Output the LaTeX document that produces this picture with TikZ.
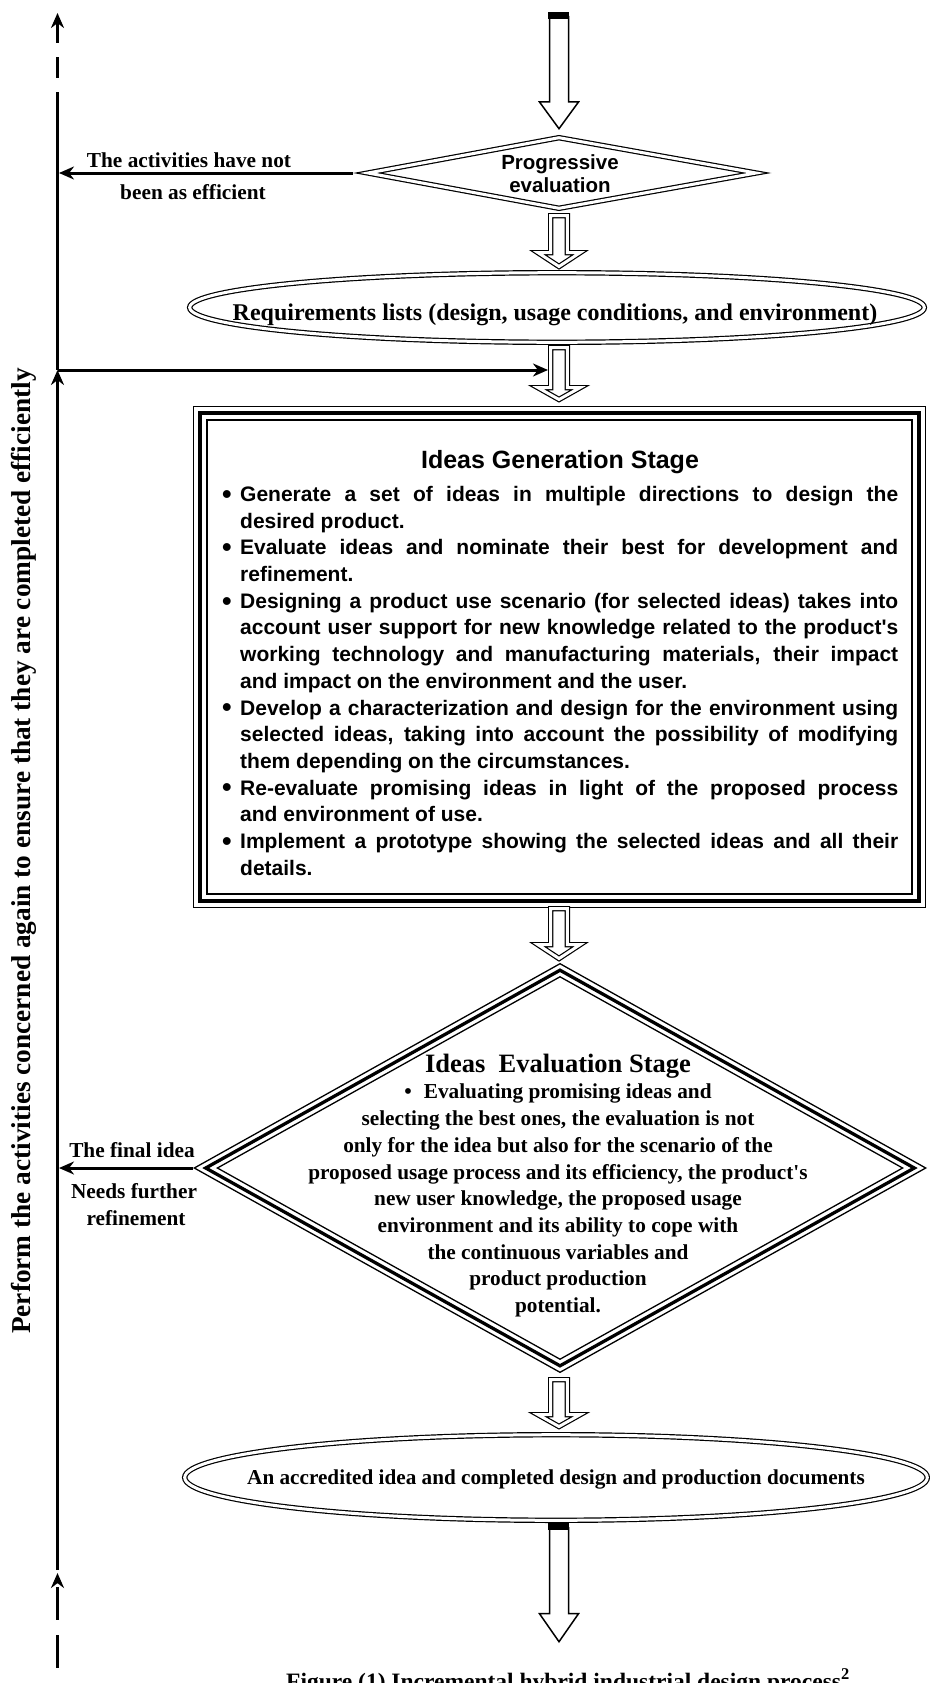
\documentclass[tikz,border=0pt]{standalone}
\usepackage{fontspec}
\setmainfont{Liberation Serif}
\newfontfamily\arialf{Liberation Sans}
\usetikzlibrary{arrows.meta}
\newcommand{\fsz}[2]{\fontsize{#1pt}{#2pt}\selectfont}
\newcommand{\gitem}{\par\noindent\hangindent=18pt\hangafter=1\makebox[18pt][l]{\raisebox{-1.8pt}{\scalebox{1.3}{\textbullet}}}}
\newcommand{\dblarrow}[3]{\draw[dblline, fill=white] (550.7,#1) -- (550.7,#2) -- (538,#2) -- (559,#3) -- (580,#2) -- (567.3,#2) -- (567.3,#1) -- cycle;}
\begin{document}
\begin{tikzpicture}[x=1pt,y=-1pt,
  tip/.style={-{Stealth[length=15pt,width=13pt]}},
  conn/.style={line width=3pt, tip},
  vline/.style={line width=2.7pt},
  dblline/.style={draw, line width=1.2pt, double=white, double distance=3pt},
  thinln/.style={draw, line width=1.3pt},
  thickln/.style={draw, line width=3.3pt},
  hollow/.style={draw, line width=1.5pt, fill=white},
  lbl/.style={font={\fsz{21.3}{26}\bfseries}, inner sep=0pt, anchor=base},
]
\useasboundingbox (0,0) rectangle (929,1683);

% ---------- named points ----------
\coordinate (vtop) at (57.5,13);
\coordinate (vdash) at (57.5,94);
\coordinate (vpe) at (59,173);
\coordinate (vj) at (57.5,370);
\coordinate (vfi) at (59,1168);
\coordinate (vbot) at (57.5,1570);
\coordinate (vbarr) at (57.5,1573);
\coordinate (vend) at (57.5,1700);
\coordinate (pe-w) at (353,173);
\coordinate (ev-w) at (193,1168);
\coordinate (a3w) at (548,370);

% ---------- left feedback line ----------
\draw[line width=3pt, dash pattern=on 21pt off 14pt, {Stealth[length=15pt,width=13pt]}-] (vtop) -- (vdash);
\draw[vline] (vj) -- (vdash);
\draw[vline, tip] (vbot) -- (vj);
\draw[line width=3pt, dash pattern=on 33pt off 15pt, dash phase=43pt, {Stealth[length=15pt,width=13pt]}-] (vbarr) -- (vend);

% ---------- top arrow ----------
\draw[hollow] (549.5,16) -- (549.5,102) -- (539.5,102) -- (559,128.7) -- (578.5,102) -- (568.5,102) -- (568.5,16);
\fill (548,12) rectangle (569,19);

% ---------- progressive evaluation ----------
\draw[dblline] (368,173) -- (559,137.7) -- (756,173) -- (559,208.3) -- cycle;
\node[font={\arialf\fsz{20.5}{23}\bfseries}, align=center, inner sep=0] (petext) at (560,174) {Progressive\\evaluation};
\draw[conn] (pe-w) -- (vpe);
\node[lbl] (act1) at (189,167) {The activities have not};
\node[lbl] (act2) at (193,199) {been as efficient};

\dblarrow{215.7}{252.7}{266.5}

% ---------- requirements ----------
\draw[dblline] (557,307.5) ellipse [x radius=367.3pt, y radius=34.8pt];
\node[font={\fsz{24}{28}\bfseries}, inner sep=0, anchor=base] (req) at (555,320) {Requirements lists (design, usage conditions, and environment)};

\dblarrow{347.7}{387.7}{399.5}
\draw[conn] (vj) -- (a3w);

% ---------- ideas generation box ----------
\draw[thinln] (193.6,406.6) rectangle (925.4,907.4);
\draw[thickln] (200,413) rectangle (919,901);
\draw[thinln] (207,420) rectangle (912,894);
\node[font={\arialf\fsz{25}{27}\bfseries}, anchor=base, inner sep=0] (gtitle) at (560,468.5) {Ideas Generation Stage};
\node[anchor=north west, inner sep=0, text width=676pt, align=justify,
      font={\arialf\fsz{21}{26.7}\bfseries}] (glist) at (222,474.5) {%
\hyphenpenalty=10000\tolerance=10000\parindent=0pt
\gitem\rule{0pt}{20pt}Generate a set of ideas in multiple directions to design the\linebreak desired product.
\gitem Evaluate ideas and nominate their best for development and\linebreak refinement.
\gitem Designing a product use scenario (for selected ideas) takes into\linebreak account user support for new knowledge related to the product\textquotesingle s\linebreak working technology and manufacturing materials, their impact\linebreak and impact on the environment and the user.
\gitem Develop a characterization and design for the environment using\linebreak selected ideas, taking into account the possibility of modifying\linebreak them depending on the circumstances.
\gitem Re-evaluate promising ideas in light of the proposed process\linebreak and environment of use.
\gitem Implement a prototype showing the selected ideas and all their\linebreak details.\par};

\dblarrow{908.7}{944.7}{958.5}

% ---------- ideas evaluation diamond ----------
\draw[thinln] (194.3,1168) -- (560,963.7) -- (925.7,1168) -- (560,1372.3) -- cycle;
\draw[thickln] (205.7,1168) -- (560,970.2) -- (914.3,1168) -- (560,1365.8) -- cycle;
\draw[thinln] (217.4,1168) -- (560,976.8) -- (902.6,1168) -- (560,1359.2) -- cycle;
\node[font={\fsz{21.3}{26.7}\bfseries}, align=center, anchor=north, inner sep=0] (etext) at (558,1050) {%
{\fsz{26.5}{26.7}\rule{0pt}{22pt}Ideas\ \ Evaluation Stage}\\
\textbullet\hspace{12pt}Evaluating promising ideas and\hspace*{20pt}\\
selecting the best ones, the evaluation is not\\
only for the idea but also for the scenario of the\\
proposed usage process and its efficiency, the product\textquotesingle s\\
new user knowledge, the proposed usage\\
environment and its ability to cope with\\
the continuous variables and\\
product production\\
potential.};
\draw[conn] (ev-w) -- (vfi);
\node[lbl] (fin1) at (132,1157) {The final idea};
\node[lbl] (fin2) at (134,1198) {Needs further};
\node[lbl] (fin3) at (136,1225) {refinement};

\dblarrow{1379.7}{1414.7}{1426.5}

% ---------- accredited idea ----------
\draw[dblline] (556,1477.5) ellipse [x radius=371.3pt, y radius=42.8pt];
\node[font={\fsz{21.2}{25}\bfseries}, inner sep=0, anchor=base] (acc) at (556,1484) {An accredited idea and completed design and production documents};

% ---------- bottom arrow ----------
\draw[hollow] (549.5,1527) -- (549.5,1613.7) -- (539.5,1613.7) -- (559,1641.7) -- (578.5,1613.7) -- (568.5,1613.7) -- (568.5,1527);
\fill (548,1523) rectangle (569,1530);

% ---------- side label and caption ----------
\node[font={\fsz{27.3}{30}\bfseries}, rotate=90, anchor=base, inner sep=0] (perf) at (30,851) {Perform the activities concerned again to ensure that they are completed efficiently};
\node[font={\fsz{23.5}{26}\bfseries}, anchor=base, inner sep=0] (cap) at (568,1689) {Figure (1) Incremental hybrid industrial design process\textsuperscript{2}};
\end{tikzpicture}
\end{document}
